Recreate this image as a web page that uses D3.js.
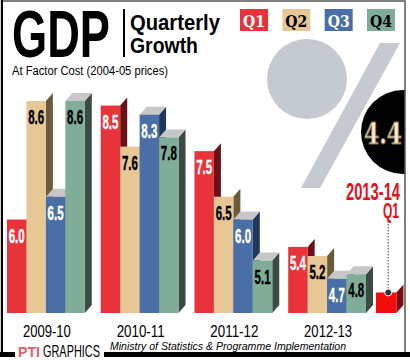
<!DOCTYPE html>
<html>
  <head>
    <meta charset="UTF-8">
    <style>
      html, body { margin: 0; padding: 0; background: white; }
      svg { display: block; }
      .narrow { font-family: 'Liberation Sans', Arial, sans-serif; }
      .serif { font-family: 'DejaVu Serif', 'Liberation Serif', serif; }
    </style>
    <script src="https://d3js.org/d3.v7.min.js"></script>
  </head>
  <body>
    <svg id="chart"></svg>
    <script type="text/javascript">
      // values
      let years = ['2009-10', '2010-11', '2011-12', '2012-13']
      let quarters = ['Q1', 'Q2', 'Q3', 'Q4']
      let q1Values = [6.0, 8.5, 7.5, 5.4]
      let q2Values = [8.6, 7.6, 6.5, 5.2]
      let q3Values = [6.5, 8.3, 6.0, 4.7]
      let q4Values = [8.6, 7.8, 5.1, 4.8]
      let latestYear = '2013-14'
      let latestQuarter = 'Q1'
      let latestValue = 4.4

      let frontColors = { Q1: '#e8333b', Q2: '#e8c797', Q3: '#4a6ea6', Q4: '#80ad97' }
      let sideColors = { Q1: '#6c1119', Q2: '#6b5a38', Q3: '#22385a', Q4: '#3a4b42' }
      let labelColors = { Q1: 'white', Q2: 'black', Q3: 'white', Q4: 'black' }
      let topColor = '#c7c7c7'

      function getChartConfig() {
        let width = 410
        let height = 360
        let baseline = 313
        let depth = { dx: 7, dy: 8 }
        let svg = d3.select('#chart')
          .attr('width', width)
          .attr('height', height)
        return { width, height, baseline, depth, svg }
      }

      function getScales(config) {
        let yearScale = d3.scaleBand()
          .domain(years)
          .range([7, 366])
          .paddingInner(16 / 94)

        let quarterScale = d3.scaleBand()
          .domain(quarters)
          .range([0, yearScale.bandwidth()])

        let yScale = d3.scaleLinear()
          .domain([3.95, 8.6])
          .range([config.baseline, 101])

        return { yearScale, quarterScale, yScale }
      }

      // condensed text: squeeze the glyphs into a given width
      function narrowText(parent, x, y, str, size, width, opts) {
        opts = opts || {}
        let t = parent.append('text')
          .attr('class', opts.serif ? 'serif' : 'narrow')
          .attr('x', x).attr('y', y)
          .attr('textLength', width)
          .attr('lengthAdjust', 'spacingAndGlyphs')
          .style('font-size', size + 'px')
          .style('font-weight', opts.bold ? 'bold' : 'normal')
          .style('font-style', opts.italic ? 'italic' : 'normal')
          .attr('fill', opts.fill || 'black')
          .text(str)
        if (opts.anchor) t.attr('text-anchor', opts.anchor)
        return t
      }

      function drawDecoration(config) {
        let svg = config.svg
        // big grey percent sign
        svg.append('circle')
          .attr('cx', 307).attr('cy', 79).attr('r', 40)
          .attr('fill', '#c5cad0')
        svg.append('polygon')
          .attr('points', '380,43 400,43 320,188 301,188')
          .attr('fill', '#c5cad0')

        svg.append('clipPath').attr('id', 'frame-clip')
          .append('rect').attr('x', 0).attr('y', 0).attr('width', 405).attr('height', 360)
      }

      function drawTitle(config) {
        let svg = config.svg
        narrowText(svg, 12, 57, 'GDP', 66, 98, { bold: true })

        svg.append('rect')
          .attr('x', 123).attr('y', 9).attr('width', 2).attr('height', 48)
          .attr('fill', 'black')

        narrowText(svg, 130, 30, 'Quarterly', 22, 90, { bold: true })
        narrowText(svg, 130, 53, 'Growth', 22, 68, { bold: true })
        narrowText(svg, 12, 75, 'At Factor Cost (2004-05 prices)', 12.5, 156)
      }

      function drawLegend(config) {
        let legendScale = d3.scalePoint()
          .domain(quarters)
          .range([240, 367])

        let items = config.svg.append('g')
          .selectAll('g')
          .data(quarters)
          .join('g')
          .attr('transform', d => `translate(${legendScale(d)}, 9)`)

        items.append('rect')
          .attr('width', 28).attr('height', 22)
          .attr('fill', d => frontColors[d])
        items.each(function(d) {
          narrowText(d3.select(this), 14, 17.5, d, 16, 22, { serif: true, bold: true, anchor: 'middle', fill: labelColors[d] })
        })
      }

      function bar3d(g, x, w, top, config, front, side, topFill) {
        let base = config.baseline
        let { dx, dy } = config.depth
        g.append('polygon')
          .attr('points', [[x + w, top], [x + w + dx, top - dy], [x + w + dx, base - dy], [x + w, base]].join(' '))
          .attr('fill', side)
        if (topFill) {
          g.append('polygon')
            .attr('points', [[x, top], [x + dx, top - dy], [x + w + dx, top - dy], [x + w, top]].join(' '))
            .attr('fill', topFill)
        }
        g.append('rect')
          .attr('x', x).attr('y', top)
          .attr('width', w).attr('height', base - top)
          .attr('fill', front)
      }

      function drawBars(scales, config) {
        let series = { Q1: q1Values, Q2: q2Values, Q3: q3Values, Q4: q4Values }
        let w = scales.quarterScale.bandwidth()
        let g = config.svg.append('g').attr('class', 'bars')

        years.forEach((year, i) => {
          quarters.forEach(q => {
            let value = series[q][i]
            let x = scales.yearScale(year) + scales.quarterScale(q)
            let top = scales.yScale(value)
            let hasTop = q === 'Q3' || q === 'Q4'
            bar3d(g, x, w, top, config, frontColors[q], sideColors[q], hasTop ? topColor : null)
          })
        })

        // value labels on top of the bars
        years.forEach((year, i) => {
          quarters.forEach(q => {
            let value = series[q][i]
            let x = scales.yearScale(year) + scales.quarterScale(q)
            narrowText(g, x + w / 2, scales.yScale(value) + 23, value.toFixed(1), 20, 16,
              { bold: true, anchor: 'middle', fill: labelColors[q] })
              .attr('stroke', labelColors[q])
              .attr('stroke-width', 0.4)
          })
        })

        // year labels
        let labels = config.svg.append('g')
        years.forEach(year => {
          narrowText(labels, scales.yearScale(year) + scales.yearScale.bandwidth() / 2 + 1, 337, year, 16.5, 48,
            { anchor: 'middle' })
        })
      }

      function drawLatest(scales, config) {
        let svg = config.svg
        let w = scales.quarterScale.bandwidth() + 1
        let x = scales.yearScale(years[years.length - 1]) + scales.yearScale.bandwidth() + 10
        let top = scales.yScale(latestValue)
        bar3d(svg.append('g'), x, w, top, config, '#f20c0c', '#7a0d12', null)

        // black badge with value
        let badge = svg.append('g').attr('clip-path', 'url(#frame-clip)')
        badge.append('circle')
          .attr('cx', 403).attr('cy', 132).attr('r', 42)
          .attr('fill', 'black')
        narrowText(badge, 364, 144, latestValue.toFixed(1), 30, 38, { serif: true, bold: true, fill: '#f6edd2' })
          .attr('stroke', '#8c6a38')
          .attr('stroke-width', 1)

        narrowText(svg, 346, 200, latestYear, 23, 54, { bold: true, fill: '#e1111b' })
        narrowText(svg, 383, 218, latestQuarter, 22, 16, { bold: true, fill: '#e1111b' })

        let cx = x + w / 2 + 2
        svg.append('line')
          .attr('x1', cx).attr('x2', cx)
          .attr('y1', 221).attr('y2', top)
          .attr('stroke', '#444')
          .attr('stroke-width', 1)
          .attr('stroke-dasharray', '1.5 1.5')
        svg.append('circle')
          .attr('cx', cx).attr('cy', top)
          .attr('r', 3.5)
          .attr('fill', '#333')
          .attr('stroke', 'white')
          .attr('stroke-width', 1)
      }

      function drawFooter(config) {
        let svg = config.svg
        // frame
        svg.append('rect')
          .attr('x', 1.5).attr('y', 1).attr('width', 403.5).attr('height', 354)
          .attr('fill', 'none').attr('stroke', '#555').attr('stroke-width', 1.5)
        svg.append('line')
          .attr('x1', 2).attr('x2', 2).attr('y1', 0).attr('y2', 356)
          .attr('stroke', 'black').attr('stroke-width', 2)
        svg.append('rect')
          .attr('x', 0).attr('y', 352).attr('width', 410).attr('height', 5)
          .attr('fill', 'black')
        svg.append('rect')
          .attr('x', 15).attr('y', 340).attr('width', 89).attr('height', 20)
          .attr('fill', 'white')

        narrowText(svg, 18, 357, 'PTI', 15, 22, { bold: true, fill: '#e06070' })
        narrowText(svg, 43, 357, 'GRAPHICS', 17, 57)
        narrowText(svg, 110, 350, 'Ministry of Statistics & Programme Implementation', 11, 236, { italic: true })
      }

      function showChart() {
        let config = getChartConfig()
        let scales = getScales(config)
        drawDecoration(config)
        drawTitle(config)
        drawLegend(config)
        drawBars(scales, config)
        drawLatest(scales, config)
        drawFooter(config)
      }

      showChart()
    </script>
  </body>
</html>
